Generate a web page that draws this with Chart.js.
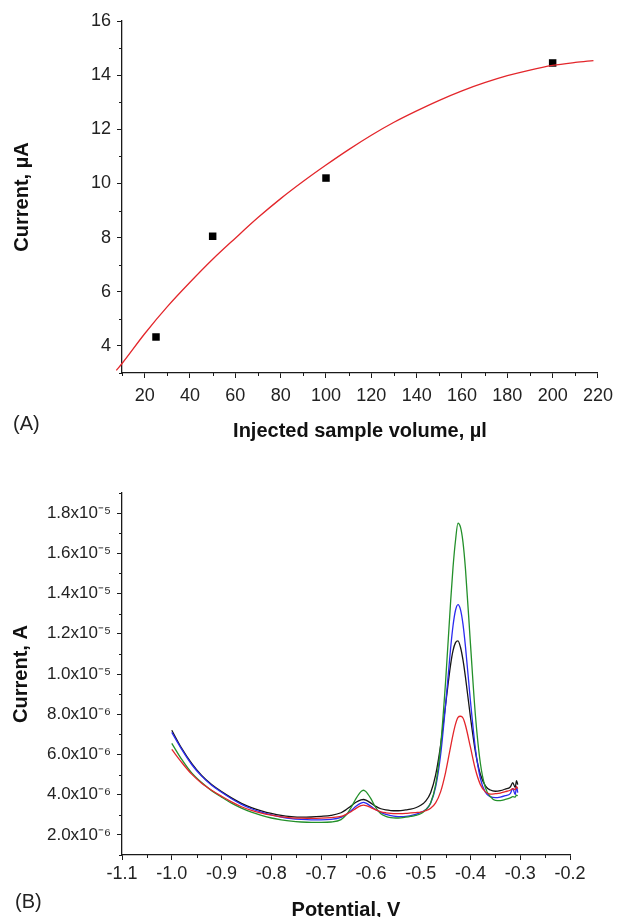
<!DOCTYPE html>
<html>
<head>
<meta charset="utf-8">
<script src="https://cdn.jsdelivr.net/npm/chart.js@4.4.1/dist/chart.umd.min.js"></script>
<style>
  html, body { margin: 0; padding: 0; background: #fff; }
  #page { position: relative; width: 620px; height: 917px; overflow: hidden; background: #fff; }
  .box { position: absolute; left: 0; width: 620px; }
  .panel { position: absolute; font-family: "Liberation Sans", Arial, sans-serif; font-size: 20px; color: #222; line-height: 1; }
</style>
</head>
<body>
<div id="page">
  <div class="box" style="top:0;height:460px;"><canvas id="chartA" width="620" height="460"></canvas></div>
  <div class="box" style="top:460px;height:457px;"><canvas id="chartB" width="620" height="457"></canvas></div>
  <div class="panel" style="left:13px;top:413px;">(A)</div>
  <div class="panel" style="left:15px;top:891px;">(B)</div>
</div>
<script>
// ---------- Panel A data ----------
const volumeMeasured = [25, 50, 100, 200];            // µl
const currentMeasured = [4.33, 8.05, 10.2, 14.45];   // µA
const fitVolume  = [7.5, 10, 20, 30, 40, 50, 60, 70, 80, 90, 100, 110, 120, 130, 140, 150, 160, 170, 180, 190, 200, 210, 218];
const fitCurrent = [3.1, 3.35, 4.45, 5.45, 6.35, 7.2, 7.98, 8.74, 9.44, 10.08, 10.68, 11.25, 11.78, 12.26, 12.68, 13.07, 13.42, 13.72, 13.98, 14.19, 14.36, 14.47, 14.54];
const xTicksA = [20, 40, 60, 80, 100, 120, 140, 160, 180, 200, 220];
const xMinorA = [10, 30, 50, 70, 90, 110, 130, 150, 170, 190, 210];
const yTicksA = [4, 6, 8, 10, 12, 14, 16];
const yMinorA = [3, 5, 7, 9, 11, 13, 15];

// ---------- Panel B data (current in units of 1e-6 A) ----------
const potential = [-1.00,-0.98,-0.96,-0.94,-0.92,-0.90,-0.88,-0.86,-0.84,-0.82,-0.80,-0.78,-0.76,-0.74,-0.72,-0.70,-0.68,-0.66,-0.65,-0.64,-0.63,-0.62,-0.615,-0.61,-0.60,-0.59,-0.58,-0.57,-0.56,-0.55,-0.54,-0.53,-0.52,-0.51,-0.50,-0.49,-0.48,-0.47,-0.46,-0.45,-0.44,-0.435,-0.43,-0.425,-0.42,-0.415,-0.41,-0.40,-0.39,-0.38,-0.37,-0.36,-0.35,-0.34,-0.33,-0.32,-0.315,-0.31,-0.3075,-0.305];
const currentRed   = [6.25,5.6,5.02,4.57,4.22,3.92,3.64,3.4,3.22,3.08,2.98,2.9,2.85,2.83,2.82,2.83,2.86,2.92,3.02,3.15,3.32,3.45,3.48,3.46,3.36,3.24,3.15,3.1,3.07,3.06,3.06,3.07,3.09,3.11,3.13,3.2,3.32,3.59,4.14,5.1,6.37,6.99,7.51,7.84,7.9,7.81,7.45,6.36,5.25,4.5,4.14,4.03,4.05,4.08,4.15,4.22,4.3,4.25,4.4,4.3];
const currentGreen = [6.55,5.75,5.08,4.6,4.2,3.88,3.58,3.33,3.13,2.97,2.84,2.75,2.68,2.64,2.62,2.62,2.64,2.76,2.98,3.35,3.8,4.15,4.22,4.15,3.8,3.35,3.05,2.92,2.86,2.84,2.85,2.88,2.92,2.97,3.05,3.25,3.59,4.49,6.41,9.6,13.53,15.3,16.64,17.5,17.3,16.56,15.22,11.51,7.94,5.55,4.35,3.9,3.72,3.7,3.76,3.84,3.9,3.88,3.98,3.95];
const currentBlue  = [7.1,6.25,5.5,4.92,4.47,4.12,3.8,3.52,3.3,3.13,3.0,2.89,2.81,2.77,2.75,2.75,2.77,2.87,3.0,3.2,3.42,3.58,3.62,3.58,3.42,3.25,3.12,3.02,2.96,2.92,2.91,2.92,2.96,3.02,3.12,3.25,3.58,4.37,5.96,8.44,11.24,12.4,13.17,13.45,13.2,12.48,11.36,8.66,6.28,4.8,4.12,3.9,3.85,3.88,3.95,4.05,4.3,4.0,4.4,4.1];
const currentBlack = [7.2,6.3,5.55,4.95,4.5,4.15,3.84,3.57,3.36,3.2,3.07,2.97,2.91,2.88,2.89,2.92,2.97,3.1,3.25,3.44,3.62,3.74,3.76,3.73,3.58,3.42,3.3,3.24,3.21,3.2,3.21,3.24,3.28,3.35,3.47,3.68,4.1,4.97,6.45,8.46,10.44,11.16,11.56,11.65,11.33,10.7,9.84,7.86,6.13,5.0,4.44,4.23,4.17,4.2,4.28,4.38,4.6,4.35,4.7,4.5];
const xTicksB = [-1.1, -1.0, -0.9, -0.8, -0.7, -0.6, -0.5, -0.4, -0.3, -0.2];
const xMinorB = [-1.05, -0.95, -0.85, -0.75, -0.65, -0.55, -0.45, -0.35, -0.25];
const yTicksB = [2, 4, 6, 8, 10, 12, 14, 16, 18];
const yTickLabelsB = ['2.0x10⁻⁶','4.0x10⁻⁶','6.0x10⁻⁶','8.0x10⁻⁶','1.0x10⁻⁵','1.2x10⁻⁵','1.4x10⁻⁵','1.6x10⁻⁵','1.8x10⁻⁵'];
const yMinorB = [1, 3, 5, 7, 9, 11, 13, 15, 17, 19];

const FONT = '"Liberation Sans", Arial, Helvetica, sans-serif';
const AXIS = '#1a1a1a';
const TEXT = '#222';

const minorTicks = {
  id: 'minorTicks',
  afterDraw(chart, args, opts) {
    const ctx = chart.ctx, xs = chart.scales.x, ys = chart.scales.y;
    ctx.save();
    ctx.strokeStyle = AXIS;
    ctx.lineWidth = 1;
    ctx.beginPath();
    (opts.x || []).forEach(v => {
      const px = Math.round(xs.getPixelForValue(v)) + 0.5;
      ctx.moveTo(px, xs.top); ctx.lineTo(px, xs.top + opts.len);
    });
    (opts.y || []).forEach(v => {
      const py = Math.round(ys.getPixelForValue(v)) + 0.5;
      ctx.moveTo(ys.right, py); ctx.lineTo(ys.right - opts.len, py);
    });
    ctx.stroke();
    ctx.restore();
  }
};

function pts(xs, ys) { return xs.map((x, i) => ({ x: x, y: ys[i] })); }

function axisCommon() {
  return {
    border: { display: true, color: AXIS, width: 1.3 },
    grid: { display: true, drawOnChartArea: false, drawTicks: true, tickLength: 5, tickColor: AXIS, tickWidth: 1 },
  };
}

// ---------- Chart A ----------
new Chart(document.getElementById('chartA'), {
  type: 'scatter',
  data: {
    datasets: [
      { label: 'fit', data: pts(fitVolume, fitCurrent), showLine: true, borderColor: '#e3262b', borderWidth: 1.3,
        pointRadius: 0, cubicInterpolationMode: 'monotone', clip: false },
      { label: 'measured', data: pts(volumeMeasured, currentMeasured), pointStyle: 'rect', pointRadius: 5.3,
        backgroundColor: '#000', borderWidth: 0, showLine: false }
    ]
  },
  options: {
    responsive: false, animation: false, events: [],
    layout: { padding: { top: 21, right: 17, left: 0, bottom: 0 } },
    plugins: { legend: { display: false }, tooltip: { enabled: false },
      minorTicks: { x: xMinorA, y: yMinorA, len: 3 } },
    scales: {
      x: Object.assign(axisCommon(), {
        type: 'linear', min: 10, max: 220,
        afterBuildTicks: s => { s.ticks = xTicksA.map(v => ({ value: v })); },
        afterFit: s => { s.height = 87; },
        ticks: { color: TEXT, font: { family: FONT, size: 18 }, padding: 7, maxRotation: 0, autoSkip: false },
        title: { display: true, text: 'Injected sample volume, µl', color: '#111',
          font: { family: FONT, size: 20, weight: 'bold', lineHeight: 1.2 }, padding: { top: 0, bottom: 17 } }
      }),
      y: Object.assign(axisCommon(), {
        type: 'linear', min: 3, max: 16,
        afterBuildTicks: s => { s.ticks = yTicksA.map(v => ({ value: v })); },
        afterFit: s => { s.width = 122; },
        ticks: { color: TEXT, font: { family: FONT, size: 18 }, padding: 6, autoSkip: false },
        title: { display: true, text: 'Current, µA', color: '#111',
          font: { family: FONT, size: 20, weight: 'bold', lineHeight: 1.2 }, padding: { top: 10, bottom: 0 } }
      })
    }
  },
  plugins: [minorTicks]
});

// ---------- Chart B ----------
const seriesB = [
  { label: 'red', data: currentRed, color: '#e3262b' },
  { label: 'green', data: currentGreen, color: '#23902a' },
  { label: 'blue', data: currentBlue, color: '#2b2bf0' },
  { label: 'black', data: currentBlack, color: '#151515' }
];

new Chart(document.getElementById('chartB'), {
  type: 'line',
  data: {
    datasets: seriesB.map(s => ({
      label: s.label, data: pts(potential, s.data), borderColor: s.color, borderWidth: 1.3,
      pointRadius: 0, cubicInterpolationMode: 'monotone', fill: false
    }))
  },
  options: {
    responsive: false, animation: false, events: [],
    layout: { padding: { top: 33, right: 50, left: 0, bottom: 0 } },
    plugins: { legend: { display: false }, tooltip: { enabled: false },
      minorTicks: { x: xMinorB, y: yMinorB, len: 3 } },
    scales: {
      x: Object.assign(axisCommon(), {
        type: 'linear', min: -1.1, max: -0.2,
        afterBuildTicks: s => { s.ticks = xTicksB.map(v => ({ value: v })); },
        afterFit: s => { s.height = 62; },
        ticks: { color: TEXT, font: { family: FONT, size: 18 }, padding: 3, maxRotation: 0, autoSkip: false,
          callback: v => v.toFixed(1) },
        title: { display: true, text: 'Potential, V', color: '#111',
          font: { family: FONT, size: 20, weight: 'bold', lineHeight: 0.7 }, padding: { top: 0, bottom: 0 } }
      }),
      y: Object.assign(axisCommon(), {
        type: 'linear', min: 1, max: 19,
        afterBuildTicks: s => { s.ticks = yTicksB.map(v => ({ value: v })); },
        afterFit: s => { s.width = 122; },
        ticks: { color: TEXT, font: { family: FONT, size: 17 }, padding: 6, autoSkip: false,
          callback: v => yTickLabelsB[yTicksB.indexOf(v)] },
        title: { display: true, text: 'Current, A', color: '#111',
          font: { family: FONT, size: 20, weight: 'bold', lineHeight: 1.2 }, padding: { top: 9, bottom: 0 } }
      })
    }
  },
  plugins: [minorTicks]
});
</script>
</body>
</html>
